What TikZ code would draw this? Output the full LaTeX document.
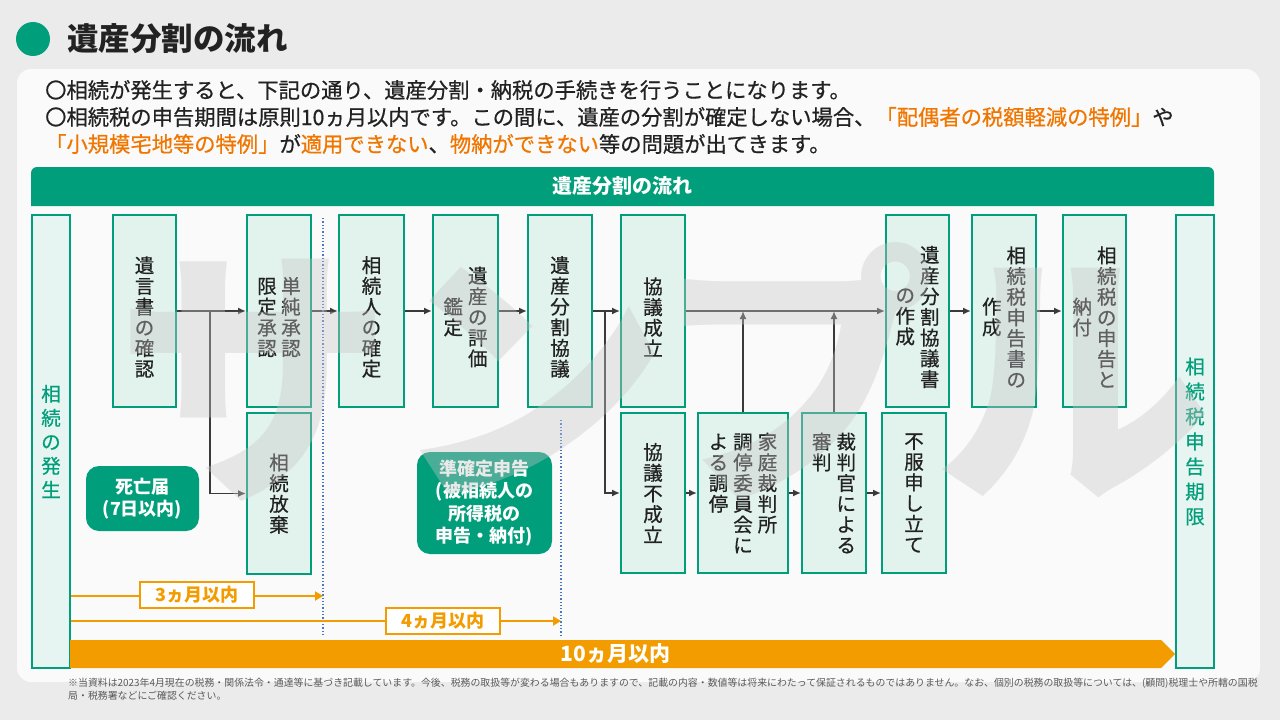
\documentclass[tikz,border=0pt]{standalone}
\usepackage{fontspec}
\setmainfont{Noto Sans CJK JP}
\newfontfamily\kfont{Noto Sans CJK JP}[FakeBold=0.6]
\usetikzlibrary{arrows.meta,shapes.symbols}

\definecolor{kgreen}{RGB}{0,158,122}
\definecolor{kmint}{RGB}{226,243,238}
\definecolor{kpale}{RGB}{230,245,241}
\definecolor{korange}{RGB}{240,118,0}
\definecolor{kamber}{RGB}{242,156,0}
\definecolor{kink}{RGB}{34,34,34}
\definecolor{kline}{RGB}{58,58,58}
\definecolor{kdot}{RGB}{70,120,200}
\definecolor{kbg}{RGB}{235,235,235}
\definecolor{kpanel}{RGB}{250,250,250}

% vertical (tate) text: one character per row
\makeatletter
\newcommand\tatebody[2]{\baselineskip=#1\lineskiplimit=-50pt\lineskip=0pt\@tfor\tch:=#2\do{\hbox to 1em{\hss\tch\hss}}}
\makeatother
\newcommand\tatec[2][20.7pt]{$\vcenter{\tatebody{#1}{#2}}$}
\newcommand\tatet[2][20.7pt]{\vtop{\tatebody{#1}{#2}}}
\newcommand\padtop[1]{\vbox{\kern12pt\hbox{#1}}}

\begin{document}
\begin{tikzpicture}[x=1pt, y={(0pt,-1pt)},
        tbox/.style={draw=kgreen, line width=2pt, fill=kmint, inner sep=0pt, text=kink, font=\kfont\fontsize{19.5}{20.7}\selectfont},
        tall/.style={tbox, fill=kpale, text=kgreen},
        note/.style={fill=kgreen, text=white, rounded corners=13pt, align=center, inner sep=0pt, font=\fontsize{18}{22.3}\selectfont\bfseries},
        arr/.style={draw=kline, line width=1.6pt, -{Latex[length=8pt,width=7pt]}},
        span/.style={draw=kamber, line width=2.8pt, -{Triangle[length=8pt,width=9pt]}},
        spanlabel/.style={draw=kamber, line width=2pt, fill=white, text=kamber, minimum width=114pt, minimum height=26pt, inner sep=0pt, font=\fontsize{18}{18}\selectfont\bfseries},
        divider/.style={draw=kdot, line width=1.3pt, dotted},
        body/.style={anchor=west, inner sep=0pt, text=kink, font=\kfont\fontsize{21.3}{27}\selectfont}]
    \useasboundingbox (0,0) rectangle (1280,720);
    \fill[kbg] (0,0) rectangle (1280,720);
    \fill[kpanel, rounded corners=14pt] (17,69) rectangle (1260,682);

    % title
    \node [circle, fill=kgreen, minimum size=34pt, inner sep=0pt] (dot) at (33,39) {};
    \node [anchor=west, inner sep=0pt, text=kink, font=\fontsize{31.5}{31.5}\selectfont\bfseries] (title) at (67,39) {遺産分割の流れ};

    \node [body] (line1) at (45,90) {〇相続が発生すると、下記の通り、遺産分割・納税の手続きを行うことになります。};
    \node [body] (line2) at (45,117) {〇相続税の申告期間は原則10ヵ月以内です。この間に、遺産の分割が確定しない場合、\textcolor{korange}{「配偶者の税額軽減の特例」}や};
    \node [body] (line3) at (45,144) {\textcolor{korange}{「小規模宅地等の特例」}が\textcolor{korange}{適用できない}、\textcolor{korange}{物納ができない}等の問題が出てきます。};

    \fill[kgreen] (31,206) [rounded corners=6pt] -- (31,167) -- (1214,167) [sharp corners] -- (1214,206) -- cycle;
    \node [text=white, font=\fontsize{20}{20}\selectfont\bfseries] (nagare) at (622,186) {遺産分割の流れ};

    % steps
    \node [tall, minimum width=38pt, minimum height=453pt] (hassei) at (51,441.5) {\tatec[24pt]{相続の発生}};
    \node [tbox, minimum width=63pt, minimum height=192pt] (isho) at (144.5,311) {\padtop{\tatec{遺言書の確認}}};
    \node [tbox, minimum width=64pt, minimum height=192pt] (shonin) at (279,311) {\padtop{\tatet{限定承認}\kern4.5pt\tatet{単純承認}}};
    \node [tbox, minimum width=64pt, minimum height=161pt] (hoki) at (279,493.5) {\tatec{相続放棄}};
    \node [tbox, minimum width=65pt, minimum height=192pt] (souzokunin) at (371.5,311) {\padtop{\tatec{相続人の確定}}};
    \node [tbox, minimum width=65pt, minimum height=192pt] (hyoka) at (465.5,311) {\padtop{\tatec{鑑定}\kern5pt\tatec{遺産の評価}}};
    \node [tbox, minimum width=64pt, minimum height=192pt] (kyogi) at (560,311) {\padtop{\tatec{遺産分割協議}}};
    \node [tbox, minimum width=64pt, minimum height=192pt] (seiritsu) at (653,311) {\padtop{\tatec{協議成立}}};
    \node [tbox, minimum width=64pt, minimum height=160pt] (fuseiritsu) at (653,493) {\tatec{協議不成立}};
    \node [tbox, minimum width=90pt, minimum height=160pt] (chotei) at (743,493) {\tatet{よる調停}\kern5pt\tatet{調停委員会に}\kern5pt\tatet{家庭裁判所}};
    \node [tbox, minimum width=64pt, minimum height=160pt] (shinpan) at (834,493) {\tatet{審判}\kern5pt\tatet{裁判官による}};
    \node [tbox, minimum width=64pt, minimum height=160pt] (fufuku) at (914,493) {\tatec{不服申し立て}};
    \node [tbox, minimum width=63pt, minimum height=192pt] (kyogisho) at (917.5,311) {\padtop{\tatec{の作成}\kern5pt\tatec{遺産分割協議書}}};
    \node [tbox, minimum width=64pt, minimum height=192pt] (shinkokusho) at (1004,311) {\padtop{\tatec{作成}\kern5pt\tatec{相続税申告書の}}};
    \node [tbox, minimum width=63pt, minimum height=192pt] (nofu) at (1094.5,311) {\padtop{\tatec{納付}\kern5pt\tatec{相続税の申告と}}};
    \node [tall, minimum width=38pt, minimum height=453pt] (kigen) at (1195,441.5) {\tatec[25pt]{相続税申告期限}};

    \node [note, minimum width=113pt, minimum height=65pt] (shibou) at (142.5,498.5) {死亡届\\(7日以内)};
    \node [note, minimum width=135pt, minimum height=102pt] (junkakutei) at (484.5,503) {準確定申告\\(被相続人の\\所得税の\\申告・納付)};

    % connectors
    \coordinate (b1) at (210,311);
    \coordinate (b2) at (605,311);
    \draw [arr] (isho) -- (shonin);
    \draw [arr] (b1) |- (hoki);
    \draw [arr] (shonin) -- (souzokunin);
    \draw [arr] (souzokunin) -- (hyoka);
    \draw [arr] (hyoka) -- (kyogi);
    \draw [arr] (kyogi) -- (seiritsu);
    \draw [arr] (b2) |- (fuseiritsu);
    \draw [arr] (seiritsu) -- (kyogisho);
    \draw [arr] (chotei.north) -- (chotei.north |- seiritsu.east);
    \draw [arr] (shinpan.north) -- (shinpan.north |- seiritsu.east);
    \draw [arr] (fuseiritsu) -- (chotei);
    \draw [arr] (chotei) -- (shinpan);
    \draw [arr] (shinpan) -- (fufuku);
    \draw [arr] (kyogisho) -- (shinkokusho);
    \draw [arr] (shinkokusho) -- (nofu);

    % deadlines
    \coordinate (d1t) at (323,218);
    \coordinate (d1b) at (323,637);
    \coordinate (d2t) at (561,420);
    \coordinate (d2b) at (561,637);
    \draw [divider] (d1t) -- (d1b);
    \draw [divider] (d2t) -- (d2b);
    \coordinate (s3) at (323,596);
    \coordinate (s4) at (561,621);
    \draw [span] (hassei.east |- s3) -- (s3);
    \draw [span] (hassei.east |- s4) -- (s4);
    \node [spanlabel] (sankagetsu) at (197,595) {3ヵ月以内};
    \node [spanlabel] (yonkagetsu) at (443,621) {4ヵ月以内};
    \node [signal, signal to=east, signal pointer angle=90, fill=kamber, anchor=west, minimum width=1105pt, minimum height=28pt, inner sep=0pt, text=white, font=\fontsize{21}{21}\selectfont\bfseries] (juukagetsu) at (70,654) {10ヵ月以内};

    \node [anchor=north west, inner sep=0pt, align=left, text=black!65, font=\fontsize{9.9}{13}\selectfont] (chuki) at (68,678) {※当資料は2023年4月現在の税務・関係法令・通達等に基づき記載しています。今後、税務の取扱等が変わる場合もありますので、記載の内容・数値等は将来にわたって保証されるものではありません。なお、個別の税務の取扱等については、(顧問)税理士や所轄の国税\\局・税務署などにご確認ください。};

    % watermark
    \node [text=black!22, opacity=0.38, inner sep=0pt, font=\fontsize{276}{276}\selectfont\bfseries] (sample) at (664,372) {サンプル};
\end{tikzpicture}
\end{document}
